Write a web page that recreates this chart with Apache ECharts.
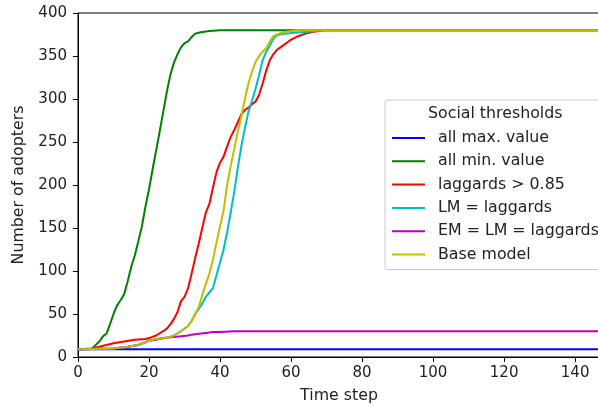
<!DOCTYPE html>
<html><head><meta charset="utf-8">
<script src="https://cdn.jsdelivr.net/npm/echarts@6/dist/echarts.min.js"></script>
<style>html,body{margin:0;padding:0;background:#fff}#c{width:598px;height:406px}</style>
</head><body><div id="c"></div>
<script>
const xTicks = [0, 20, 40, 60, 80, 100, 120, 140];
const yTicks = [0, 50, 100, 150, 200, 250, 300, 350, 400];
const seriesNames = ['all max. value', 'all min. value', 'laggards > 0.85', 'LM = laggards', 'EM = LM = laggards', 'Base model'];

const allMax = [[0,9],[147,9]];
const allMin = [[0,9],[3,9],[4,10],[6,18],[7,24],[8,27],[9,38],[10,50],[11,60],[12,66],[13,73],[14,88],[15,105],[16,118],[17,135],[18,152],[19,175],[20,195],[21,218],[22,240],[23,262],[24,285],[25,308],[26,328],[27,342],[28,352],[29,360],[30,365],[31,367],[32,372],[33,376],[34,377],[35,378],[37,379],[40,380],[147,380]];
const laggards085 = [[0,9],[4,10],[6,12],[8,14],[10,16],[13,18],[16,20],[19,21],[20,22],[22,25],[24,30],[25,33],[26,38],[27,44],[28,52],[29,65],[30,70],[31,80],[32,97],[33,115],[34,132],[35,150],[36,168],[37,178],[38,197],[39,215],[40,226],[41,233],[42,245],[43,256],[44,264],[45,273],[46,282],[47,287],[48,290],[49,294],[50,297],[51,305],[52,318],[53,333],[54,345],[55,352],[56,357],[57,360],[58,363],[59,366],[60,369],[62,373],[64,376],[66,378],[69,380],[147,380]];
const lmLaggards = [[0,9],[10,10],[14,12],[17,14],[19,17],[20,19],[22,21],[25,22],[27,25],[29,30],[31,36],[32,42],[33,50],[34,56],[35,62],[36,70],[37,75],[38,80],[39,95],[40,110],[41,125],[42,145],[43,168],[44,192],[45,220],[46,245],[47,266],[48,285],[49,298],[50,312],[51,328],[52,345],[53,355],[54,362],[55,370],[56,374],[58,376],[61,377],[64,378],[67,379],[69,380],[147,380]];
const emLmLaggards = [[0,9],[10,10],[14,12],[17,14],[19,17],[20,19],[22,20],[24,22],[26,23],[29,24],[31,25],[32,26],[34,27],[36,28],[38,29],[40,29],[44,30],[147,30]];
const baseModel = [[0,9],[10,10],[14,12],[17,14],[19,17],[20,19],[22,21],[25,22],[27,25],[29,30],[31,36],[32,42],[33,50],[34,58],[35,72],[36,85],[37,97],[38,113],[39,133],[40,152],[41,170],[42,200],[43,222],[44,242],[45,262],[46,280],[47,300],[48,318],[49,332],[50,343],[51,350],[52,355],[53,359],[54,367],[55,373],[56,375],[58,378],[62,380],[147,380]];

const allData = [allMax, allMin, laggards085, lmLaggards, emLmLaggards, baseModel];
const colors = ['#0000ff', '#008000', '#ff0000', '#00bfbf', '#bf00bf', '#bfbf00'];
const font = 'DejaVu Sans';

const chart = echarts.init(document.getElementById('c'), null, {renderer: 'canvas'});
chart.setOption({
  animation: false,
  backgroundColor: '#fff',
  grid: {left: 78, right: -2, top: 13, bottom: 49, show: true, borderColor: '#000', borderWidth: 1, containLabel: false, outerBoundsMode: 'none'},
  title: {text: 'Social thresholds', left: 428, top: 106, textStyle: {fontFamily: font, fontSize: 15.8, fontWeight: 'normal', color: '#222'}, padding: 0},
  legend: {
    orient: 'vertical', left: 385, top: 100,
    padding: [30, 12, 7, 7], itemGap: 7.3, itemWidth: 33, itemHeight: 2, icon: 'rect',
    borderColor: '#ccc', borderWidth: 1, borderRadius: 3, backgroundColor: 'rgba(255,255,255,0.85)',
    textStyle: {fontFamily: font, fontSize: 15.8, color: '#222', lineHeight: 16, padding: [0, 0, 0, 8]},
    data: seriesNames
  },
  xAxis: {
    type: 'value', min: 0, max: 147, interval: 20,
    name: 'Time step', nameLocation: 'middle', nameGap: 31,
    nameTextStyle: {fontFamily: font, fontSize: 15.8, color: '#222'},
    axisLine: {show: true, lineStyle: {color: '#000', width: 1}},
    axisTick: {show: true, length: 5, lineStyle: {color: '#000'}},
    axisLabel: {fontFamily: font, fontSize: 15, color: '#222', margin: 9, customValues: xTicks},
    splitLine: {show: false}
  },
  yAxis: {
    type: 'value', min: 0, max: 400, interval: 50,
    name: 'Number of adopters', nameLocation: 'middle', nameGap: 51,
    nameTextStyle: {fontFamily: font, fontSize: 15.8, color: '#222'},
    axisLine: {show: true, lineStyle: {color: '#000', width: 1}},
    axisTick: {show: true, length: 5, lineStyle: {color: '#000'}},
    axisLabel: {fontFamily: font, fontSize: 15, color: '#222', margin: 11},
    splitLine: {show: false}
  },
  series: seriesNames.map((n, i) => ({
    name: n, type: 'line', data: allData[i], showSymbol: false, symbol: 'none',
    color: colors[i], lineStyle: {width: 2, color: colors[i]}, z: 2 + i
  }))
});
</script></body></html>
